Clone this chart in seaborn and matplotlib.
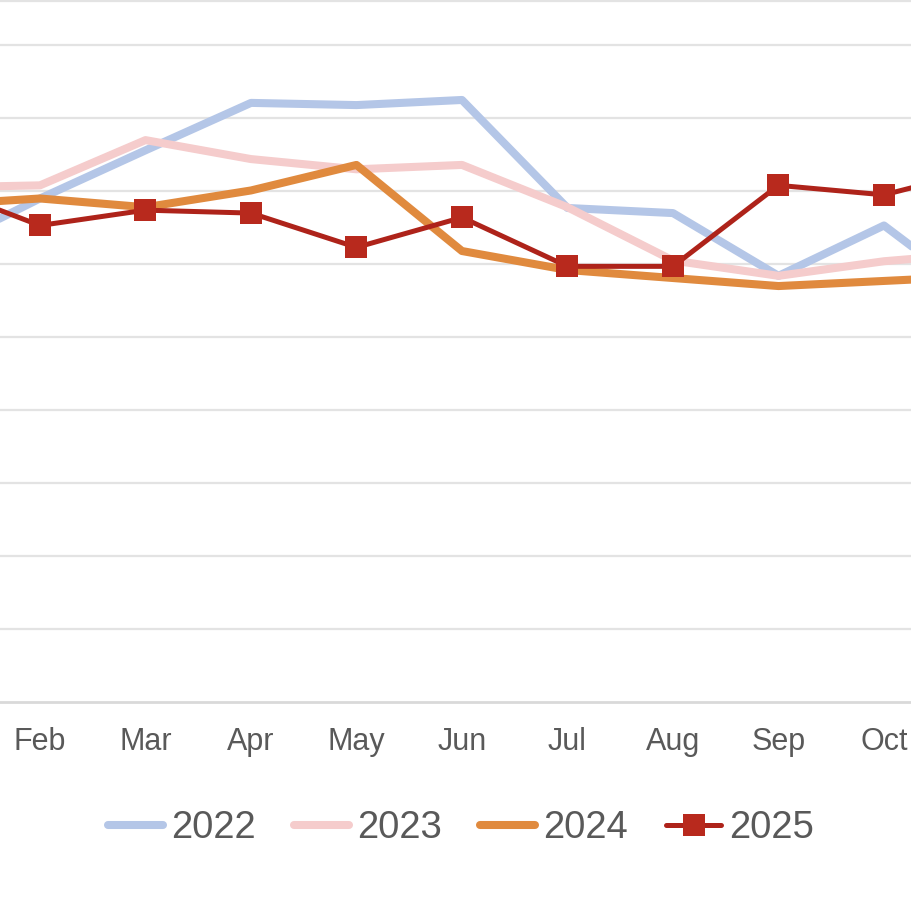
import pandas as pd
import matplotlib.pyplot as plt
from matplotlib.lines import Line2D
import seaborn as sns

months = ['Jan', 'Feb', 'Mar', 'Apr', 'May', 'Jun', 'Jul', 'Aug', 'Sep', 'Oct', 'Nov']
years = ['2022', '2023', '2024', '2025']

vals_2022 = [61.8, 69.0, 75.6, 82.1, 81.8, 82.5, 67.7, 67.0, 58.4, 65.3, 54.4]
vals_2023 = [70.5, 70.8, 77.0, 74.4, 73.0, 73.6, 67.8, 60.5, 58.4, 60.4, 61.6]
vals_2024 = [68.1, 69.0, 67.8, 70.1, 73.6, 61.8, 59.2, 58.1, 57.0, 57.7, 58.4]
vals_2025 = [70.8, 65.3, 67.4, 67.0, 62.3, 66.4, 59.7, 59.7, 70.8, 69.5, 73.2]

colors = {'2022': '#b4c6e7', '2023': '#f5cccc', '2024': '#e08a3e', '2025': '#ae231a'}


def main():
    series = {'2022': vals_2022, '2023': vals_2023, '2024': vals_2024, '2025': vals_2025}
    df = pd.concat([
        pd.DataFrame({'idx': range(len(months)), 'month': months, 'value': v, 'year': y})
        for y, v in series.items()
    ])

    sns.set_theme(style="white")
    plt.rcParams['font.family'] = ['Liberation Sans', 'DejaVu Sans']

    fig = plt.figure(figsize=(9.11, 9.10), dpi=100)
    ax = fig.add_axes([0, 1 - 702 / 910, 1, 702 / 910])

    for y in years:
        sub = df[df['year'] == y]
        if y == '2025':
            sns.lineplot(data=sub, x='idx', y='value', ax=ax, color=colors[y],
                         linewidth=3.6, marker='s', markersize=15.5,
                         markerfacecolor='#b8291d', markeredgewidth=0, label=y)
        else:
            sns.lineplot(data=sub, x='idx', y='value', ax=ax, color=colors[y],
                         linewidth=5.8, solid_capstyle='round', label=y)

    # only the months that fall inside the cropped view get a label
    ax.set_xticks(range(1, 10))
    ax.set_xticklabels(months[1:10])
    ax.tick_params(axis='x', length=0, pad=18, labelsize=22, labelcolor='#595959')
    ax.set_xlim(0.621, 9.256)

    ax.set_yticks(range(10, 100, 10))
    ax.set_yticklabels([])
    ax.set_ylim(0, 96.2)
    ax.tick_params(axis='y', length=0)
    ax.yaxis.grid(True, color='#e3e3e3', linewidth=1.6)
    ax.set_axisbelow(True)
    ax.set_xlabel('')
    ax.set_ylabel('')

    for side in ['top', 'left', 'right']:
        ax.spines[side].set_visible(False)
    ax.spines['bottom'].set_color('#d9d9d9')
    ax.spines['bottom'].set_linewidth(2)

    # faint border line along the top edge
    fig.add_artist(Line2D([0, 1], [0.999, 0.999], transform=fig.transFigure,
                          color='#e3e3e3', linewidth=1.6))

    handles, labels = ax.get_legend_handles_labels()
    ax.get_legend().remove()
    fig.legend(handles, labels, loc='center', bbox_to_anchor=(0.506, 1 - 828 / 910),
               ncol=4, frameon=False, fontsize=27.5, labelcolor='#595959',
               handlelength=1.45, handletextpad=0.2, columnspacing=1.0)

    fig.savefig('out.png', dpi=100)
    plt.close(fig)


if __name__ == "__main__":
    main()
